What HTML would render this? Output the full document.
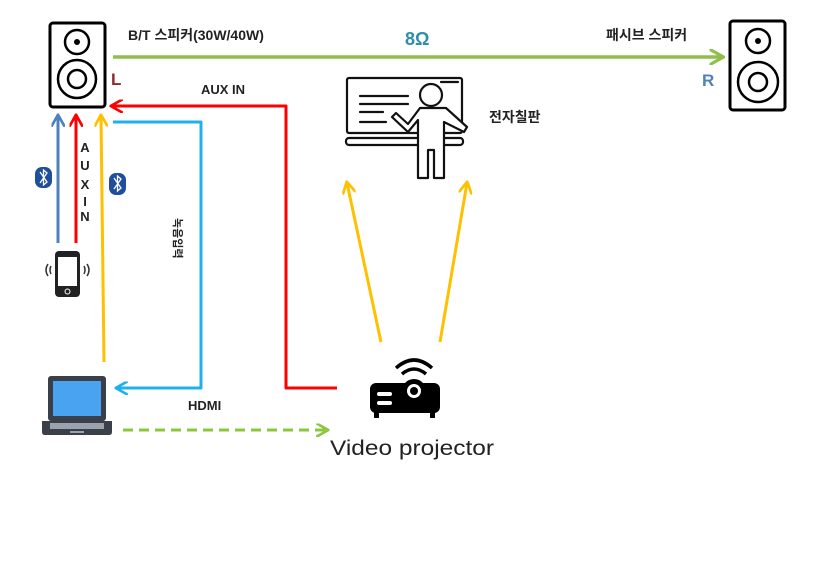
<!DOCTYPE html>
<html><head><meta charset="utf-8"><style>
html,body{margin:0;padding:0;background:#fff;}
svg text{font-family:"Liberation Sans","Noto Sans CJK KR",sans-serif;}
</style></head><body>
<svg width="820" height="567" viewBox="0 0 820 567" xmlns="http://www.w3.org/2000/svg">
<defs>
<marker id="ah" viewBox="0 0 10 10" refX="8" refY="5" markerWidth="4.5" markerHeight="4.5" orient="auto-start-reverse" markerUnits="strokeWidth">
<path d="M0,0 L9,5 L0,10" fill="none" stroke="context-stroke" stroke-width="2"/>
</marker>
</defs>
<!-- left speaker -->
<rect x="50" y="23" width="55" height="84" rx="3" fill="#fff" stroke="#000" stroke-width="3"/>
<circle cx="77" cy="42" r="12" fill="none" stroke="#000" stroke-width="2.5"/>
<circle cx="77" cy="42" r="3" fill="#000"/>
<circle cx="77" cy="79" r="19" fill="none" stroke="#000" stroke-width="2.5"/>
<circle cx="77" cy="79" r="9" fill="none" stroke="#000" stroke-width="2.5"/>
<!-- right speaker -->
<rect x="730" y="21" width="55" height="89" rx="3" fill="#fff" stroke="#000" stroke-width="3"/>
<circle cx="758" cy="41" r="12" fill="none" stroke="#000" stroke-width="2.5"/>
<circle cx="758" cy="41" r="3" fill="#000"/>
<circle cx="758" cy="82" r="20" fill="none" stroke="#000" stroke-width="2.5"/>
<circle cx="758" cy="82" r="9" fill="none" stroke="#000" stroke-width="2.5"/>
<!-- green line -->
<line x1="113" y1="57" x2="722" y2="57" stroke="#8dbf4a" stroke-width="3.5" marker-end="url(#ah)"/>
<text x="128" y="40" font-size="14" font-weight="bold" fill="#222">B/T 스피커(30W/40W)</text>
<text x="405" y="45" font-size="18" font-weight="bold" fill="#2e8fa6">8Ω</text>
<text x="606" y="40" font-size="14" font-weight="bold" fill="#222">패시브 스피커</text>
<text x="702" y="86" font-size="17" font-weight="bold" fill="#4f81bd">R</text>
<text x="111" y="85" font-size="17" font-weight="bold" fill="#8b2b2b">L</text>
<text x="201" y="94" font-size="13" font-weight="bold" fill="#222">AUX IN</text>
<!-- red AUX -->
<polyline points="337,388 286,388 286,106 112,106" fill="none" stroke="#ff0000" stroke-width="3" stroke-linejoin="round" marker-end="url(#ah)"/>
<!-- blue HDMI -->
<polyline points="113,122 201,122 201,388 117,388" fill="none" stroke="#1fb0ee" stroke-width="3" stroke-linejoin="round" marker-end="url(#ah)"/>
<text x="188" y="410" font-size="13" font-weight="bold" fill="#222">HDMI</text>
<text transform="translate(174,218) rotate(90)" font-size="11" font-weight="bold" fill="#222">녹음입력</text>
<!-- up arrows -->
<line x1="58" y1="243" x2="58" y2="116" stroke="#4f81bd" stroke-width="3" marker-end="url(#ah)"/>
<line x1="76" y1="243" x2="76" y2="116" stroke="#ff0000" stroke-width="3" marker-end="url(#ah)"/>
<line x1="104" y1="362" x2="101" y2="116" stroke="#ffc000" stroke-width="3" marker-end="url(#ah)"/>
<g font-size="13" font-weight="bold" fill="#222" text-anchor="middle">
<text x="85" y="152">A</text><text x="85" y="170">U</text><text x="85" y="189">X</text><text x="85" y="206">I</text><text x="85" y="221">N</text>
</g>
<!-- bluetooth -->
<rect x="35" y="167" width="17" height="21" rx="7" fill="#1f4e9c"/>
<path d="M40,172 L47,182 L43.5,185 L43.5,170 L47,173 L40,183" fill="none" stroke="#fff" stroke-width="1.3"/>
<rect x="109" y="173" width="17" height="22" rx="7" fill="#1f4e9c"/>
<path d="M114,178 L121,188 L117.5,191 L117.5,176 L121,179 L114,189" fill="none" stroke="#fff" stroke-width="1.3"/>
<!-- phone -->
<rect x="55" y="251" width="25" height="46" rx="4" fill="#222"/>
<rect x="58" y="257" width="19" height="29" fill="#fff"/>
<circle cx="67.5" cy="291.5" r="2.5" fill="none" stroke="#fff" stroke-width="1"/>
<path d="M48,264 Q44,270 48,276 M51,266 Q49,270 51,274 M87,264 Q91,270 87,276 M84,266 Q86,270 84,274" fill="none" stroke="#333" stroke-width="1.5"/>
<!-- laptop -->
<rect x="48" y="376" width="58" height="45" rx="3" fill="#3a3f4a"/>
<rect x="53" y="381" width="48" height="35" fill="#4aa3f0"/>
<path d="M42,421 L112,421 L112,432 Q112,435 109,435 L45,435 Q42,435 42,432 Z" fill="#3a3f4a"/>
<rect x="50" y="423" width="54" height="6" fill="#9aa3ad"/>
<rect x="70" y="431" width="14" height="2" fill="#9aa3ad"/>
<!-- green dashed -->
<line x1="123" y1="430" x2="327" y2="430" stroke="#8dc63f" stroke-width="3" stroke-dasharray="10,6" marker-end="url(#ah)"/>
<!-- projector -->
<rect x="370" y="383" width="70" height="30" rx="6" fill="#000"/>
<rect x="374" y="412" width="5" height="6" fill="#000"/>
<rect x="430" y="412" width="5" height="6" fill="#000"/>
<circle cx="414" cy="391" r="12" fill="#000"/>
<circle cx="414" cy="391" r="7" fill="#fff"/>
<circle cx="414" cy="391" r="4" fill="#000"/>
<rect x="377" y="392" width="15" height="4" rx="2" fill="#fff"/>
<rect x="377" y="401" width="15" height="4" rx="2" fill="#fff"/>
<path d="M396,368 Q414,352 432,368 M402,374 Q414,364 426,374" fill="none" stroke="#000" stroke-width="3.5"/>
<text x="330" y="455" font-size="21" fill="#222" textLength="164" lengthAdjust="spacingAndGlyphs">Video projector</text>
<!-- yellow arrows -->
<line x1="381" y1="342" x2="347" y2="183" stroke="#ffc000" stroke-width="3" marker-end="url(#ah)"/>
<line x1="440" y1="342" x2="467" y2="183" stroke="#ffc000" stroke-width="3" marker-end="url(#ah)"/>
<!-- whiteboard -->
<g fill="none" stroke="#111" stroke-width="2.2" stroke-linecap="round" stroke-linejoin="round">
<rect x="347" y="78" width="115" height="55" rx="2"/>
<rect x="346" y="138" width="117" height="7" rx="3"/>
<line x1="360" y1="96" x2="408" y2="96"/><line x1="360" y1="104" x2="408" y2="104"/><line x1="360" y1="112" x2="383" y2="112"/><line x1="360" y1="122" x2="386" y2="122"/>
<line x1="441" y1="82" x2="458" y2="82"/>
</g>
<g fill="#fff" stroke="#111" stroke-width="2.2" stroke-linejoin="round">
<path d="M392,117 L408,132 L418,120 L418,178 L428,178 L428,150 L434,150 L434,178 L444,178 L444,122 L464,132 L467,127 L446,108 L420,108 L408,124 L396,113 Z"/>
<circle cx="431" cy="95" r="11"/>
</g>
<text x="489" y="122" font-size="14" font-weight="bold" fill="#222">전자칠판</text>
</svg>
</body></html>
